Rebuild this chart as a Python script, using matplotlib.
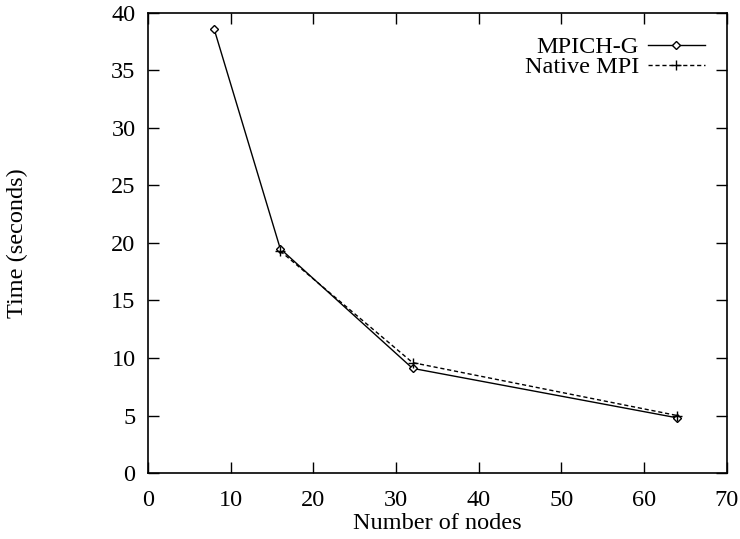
import matplotlib
matplotlib.use('Agg')
import matplotlib.pyplot as plt

nodes_mpichg = [8, 16, 32, 64]
time_mpichg = [38.6, 19.5, 9.1, 4.8]
nodes_native = [16, 32, 64]
time_native = [19.3, 9.6, 5.0]

plt.rcParams['font.family'] = 'Liberation Serif'
plt.rcParams['font.size'] = 17.5

fig = plt.figure(figsize=(7.4, 5.39), dpi=100)
ax = fig.add_axes([0.2, 0.1224, 0.782, 0.8536])

ax.plot(nodes_mpichg, time_mpichg, color='black', lw=1.0, marker='D', ms=4.5,
        mfc='white', mec='black', mew=1.0, label='MPICH-G')
ax.plot(nodes_native, time_native, color='black', lw=1.0, ls=(0, (3, 2)), marker='+',
        ms=7, mew=1.0, label='Native MPI')

ax.set_xlim(0, 70)
ax.set_ylim(0, 40)
ax.set_xticks(range(0, 71, 10))
ax.set_yticks(range(0, 41, 5))
ax.tick_params(direction='in', top=True, right=True, length=8, width=1, pad=9)
ax.tick_params(axis='x', pad=12)
for s in ax.spines.values():
    s.set_linewidth(1.2)

ax.set_xlabel('Number of nodes', labelpad=2)
ax.set_ylabel('Time (seconds)', labelpad=60)

ax.legend(loc='upper right', bbox_to_anchor=(0.985, 0.978), markerfirst=False,
          frameon=False, handlelength=2.35, borderaxespad=0.0, borderpad=0.55,
          labelspacing=-0.1, handletextpad=0.35)

fig.savefig('out.png', dpi=100)
